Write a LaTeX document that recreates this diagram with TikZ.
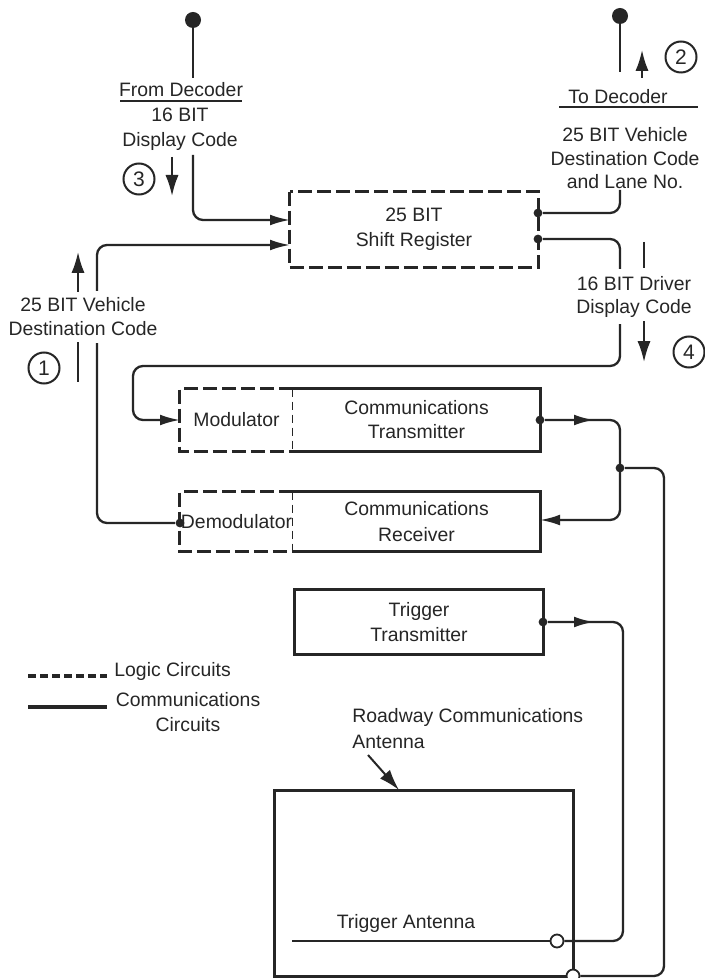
\documentclass[tikz,border=0pt]{standalone}
\usepackage{fontspec}
\setmainfont{Liberation Sans}
\usetikzlibrary{arrows.meta}
\definecolor{ink}{HTML}{262626}
\begin{document}
\begin{tikzpicture}[x=0.5pt,y=-0.5pt,
  every node/.style={text=ink, font=\fontsize{9.7}{12}\selectfont},
  conn/.style={draw=ink, line width=1.15pt, rounded corners=5pt},
  tipA/.style={-{Latex[length=10pt,width=5.4pt]}},
  lblarrow/.style={draw=ink, line width=1pt, -{Latex[length=10.5pt,width=6.6pt]}},
  tick/.style={draw=ink, line width=1pt},
  region/.style={inner sep=0pt, align=center},
  solidedge/.style={draw=ink, line width=1.8pt, line join=miter},
  logicedge/.style={draw=ink, line width=1.7pt, dash pattern=on 7pt off 2.5pt},
  divider/.style={draw=ink, line width=0.8pt, dash pattern=on 4pt off 2.5pt},
  legdash/.style={draw=ink, line width=1.7pt, dash pattern=on 4pt off 2pt},
  legsolid/.style={draw=ink, line width=1.8pt},
  port/.style={circle, fill=ink, inner sep=0pt, minimum size=4.4pt},
  openport/.style={circle, draw=ink, fill=white, line width=0.9pt, inner sep=0pt, minimum size=6.5pt},
  terminal/.style={circle, fill=ink, inner sep=0pt, minimum size=8pt},
  num/.style={circle, draw=ink, line width=1pt, inner sep=0pt, minimum size=15.5pt, font=\fontsize{10.5}{12}\selectfont},
  lbl/.style={align=center, inner sep=1pt},
  mask/.style={align=center, fill=white, inner xsep=1pt, inner ysep=3.5pt},
]
\path[use as bounding box, fill=white] (0,0) rectangle (705,978);

% ---------- boxes ----------
\node[region, minimum width=124pt, minimum height=37.5pt, font=\fontsize{9.7}{12.5}\selectfont] (sr) at (414,229.5) {25 BIT\\Shift Register};
\draw[logicedge] (sr.north west) rectangle (sr.south east);

\node[region, minimum width=56.5pt, minimum height=31pt] (mod) at (236.5,420) {Modulator};
\node[region, minimum width=123.5pt, minimum height=31pt] (tx) at (416.5,420) {Communications\\Transmitter};
\draw[solidedge] (tx.north west) -- (tx.north east) -- (tx.south east) -- (tx.south west);
\draw[logicedge] (tx.north west) -- (mod.north west) -- (mod.south west) -- (tx.south west);
\draw[divider] (tx.north west) -- (tx.south west);

\node[region, minimum width=56.5pt, minimum height=29.5pt] (demod) at (236.5,521.5) {Demodulator};
\node[region, minimum width=123.5pt, minimum height=29.5pt, font=\fontsize{9.7}{13}\selectfont] (rx) at (416.5,521.5) {Communications\\Receiver};
\draw[solidedge] (rx.north west) -- (rx.north east) -- (rx.south east) -- (rx.south west);
\draw[logicedge] (rx.north west) -- (demod.north west) -- (demod.south west) -- (rx.south west);
\draw[divider] (rx.north west) -- (rx.south west);

\node[region, minimum width=124pt, minimum height=32pt, font=\fontsize{9.7}{12.5}\selectfont] (tt) at (419,622) {Trigger\\Transmitter};
\draw[solidedge] (tt.north west) rectangle (tt.south east);

\node[region, minimum width=149pt, minimum height=92.5pt] (ant) at (424,883.5) {};
\draw[solidedge] (ant.north west) rectangle (ant.south east);

% ---------- ports ----------
\coordinate (srin1) at (290,220);
\coordinate (srin2) at (290,245);
\node[port] (srout1) at (538,213) {};
\node[port] (srout2) at (538,239) {};
\coordinate (modin) at (180,420);
\node[port] (demodout) at (180,523) {};
\node[port] (txout) at (540,420) {};
\coordinate (rxin) at (540,520);
\node[port] (junc) at (620,468) {};
\node[port] (ttout) at (543,622) {};
\node[openport] (trigant) at (557,941) {};
\node[openport] (antport) at (573,976) {};

% ---------- terminals ----------
\node[terminal] (dA) at (193,20) {};
\coordinate (dAend) at (193,78);
\node[terminal] (dB) at (620,16) {};
\coordinate (dBend) at (620,72);
\coordinate (c3) at (193,155);
\coordinate (c2) at (620,190);

% ---------- connectors ----------
\draw[conn] (dA) -- (dAend);
\draw[conn] (dB) -- (dBend);
\draw[conn,tipA] (c3) |- (srin1);
\draw[conn,tipA] (demodout) -- (97,523) -- (97,245) -- (srin2);
\draw[conn] (srout1) -| (c2);
\draw[conn,tipA] (srout2) -- (620,239) -- (620,366) -- (133,366) -- (133,420) -- (modin);
\draw[conn,tipA] (txout) -- (620,420) -- (620,520) -- (rxin);
\draw[conn,tipA] (txout) -- (594,420);
\draw[conn] (junc) -- (664,468) -- (664,976) -- (antport);
\draw[conn] (ttout) -- (623,622) -- (623,941) -- (trigant);
\draw[conn,tipA] (ttout) -- (594,622);
\coordinate (talstart) at (292,941);
\draw[conn] (talstart) -- (trigant);

% ---------- labels ----------
\node[lbl] (fromdec) at (181,90) {From Decoder};
\draw[tick] (120,101) -- (242,101);
\node[lbl, font=\fontsize{9.7}{12.5}\selectfont] (dc3) at (180,129.5) {16 BIT\\Display Code};
\draw[lblarrow] (172,157) -- (172,196);
\node[num] (n3) at (139,179) {3};

\node[lbl] (todec) at (618,97) {To Decoder};
\draw[tick] (559,107) -- (698,107);
\node[lbl, font=\fontsize{9.7}{11.75}\selectfont] (dc2) at (625,158.5) {25 BIT Vehicle\\Destination Code\\and Lane No.};
\draw[lblarrow] (642,78) -- (642,50);
\node[num] (n2) at (681,57) {2};

\node[mask] (vdc1) at (83,317) {25 BIT Vehicle\\Destination Code};
\draw[lblarrow] (78,292) -- (78,252);
\draw[tick] (78,342) -- (78,382);
\node[num] (n1) at (44,368) {1};

\node[mask, font=\fontsize{9.7}{11.5}\selectfont] (ddc4) at (634,296.5) {16 BIT Driver\\Display Code};
\draw[tick] (644,242) -- (644,268);
\draw[lblarrow] (644,321) -- (644,362);
\node[num] (n4) at (689,352) {4};

\node[anchor=west, align=left, inner sep=0pt, font=\fontsize{9.7}{13}\selectfont] (road) at (352,729) {Roadway Communications\\Antenna};
\coordinate (roadarr) at (368,755);
\draw[lblarrow] (roadarr) -- (399,790);

\node[lbl] (tatxt) at (406,923) {Trigger Antenna};

% ---------- legend ----------
\draw[legdash] (28,676) -- (107,676);
\node[anchor=west, inner sep=0pt] (lg1t) at (114,671) {Logic Circuits};
\draw[legsolid] (28,707) -- (107,707);
\node[lbl, font=\fontsize{9.7}{12.5}\selectfont] (lg2t) at (188,712.5) {Communications\\Circuits};
\end{tikzpicture}
\end{document}
